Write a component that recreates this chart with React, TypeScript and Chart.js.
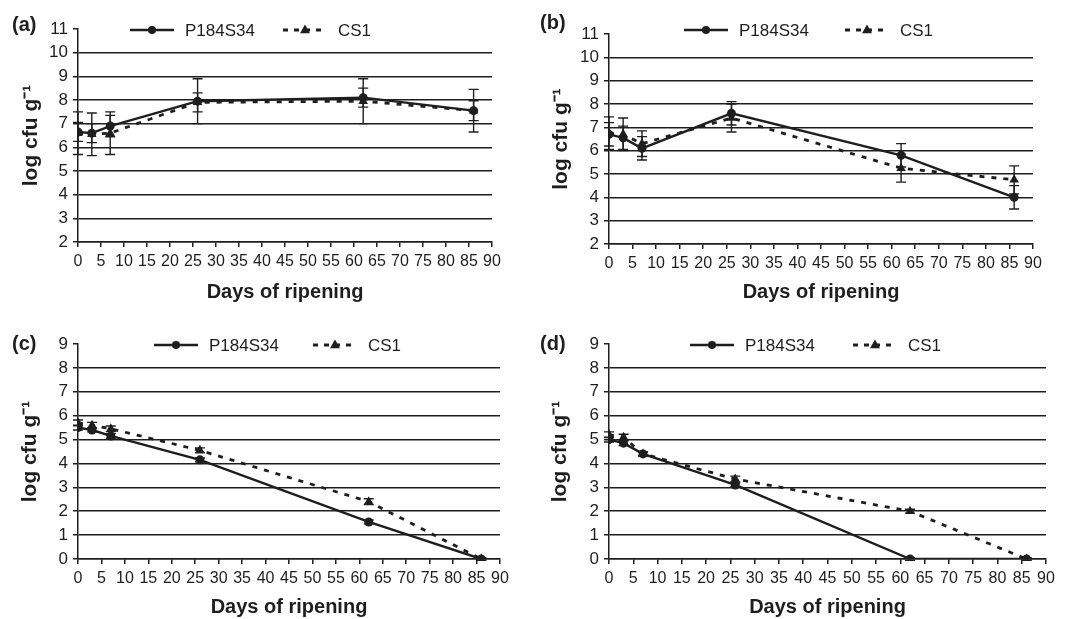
import React, { useEffect, useRef } from 'react';
import { Chart, registerables } from 'chart.js';

Chart.register(...registerables);

// ---------- data ----------
const DAYS = [0, 3, 7, 26, 62, 86];
const X_TICKS = [0, 5, 10, 15, 20, 25, 30, 35, 40, 45, 50, 55, 60, 65, 70, 75, 80, 85, 90];
const SERIES_NAMES = ['P184S34', 'CS1'];
const X_TITLE = 'Days of ripening';
const Y_TITLE = 'log cfu g\u207B\u00B9';
const PANEL_LABELS = ['(a)', '(b)', '(c)', '(d)'];

const A_P184S34 = [6.65, 6.6, 6.9, 7.95, 8.1, 7.55];
const A_P184S34_ERR = [0.4, 0.4, 0.45, 0.95, 0.4, 0.9];
const A_CS1 = [6.6, 6.55, 6.6, 7.9, 7.95, 7.55];
const A_CS1_ERR = [0.9, 0.9, 0.9, 0.4, 0.95, 0.42];

const B_P184S34 = [6.7, 6.55, 6.1, 7.6, 5.8, 4.0];
const B_P184S34_ERR = [0.5, 0.5, 0.5, 0.5, 0.5, 0.5];
const B_CS1 = [6.75, 6.7, 6.3, 7.4, 5.25, 4.75];
const B_CS1_ERR = [0.7, 0.7, 0.55, 0.6, 0.6, 0.6];

const C_P184S34 = [5.5, 5.4, 5.15, 4.15, 1.55, 0];
const C_P184S34_ERR = [0.1, 0.08, 0.1, 0.08, 0.08, 0.05];
const C_CS1 = [5.7, 5.6, 5.45, 4.55, 2.4, 0];
const C_CS1_ERR = [0.12, 0.12, 0.12, 0.1, 0.12, 0.05];

const D_P184S34 = [5.0, 4.85, 4.4, 3.1, 0, 0];
const D_P184S34_ERR = [0.1, 0.1, 0.08, 0.08, 0.05, 0.05];
const D_CS1 = [5.2, 5.1, 4.4, 3.35, 2.0, 0];
const D_CS1_ERR = [0.12, 0.12, 0.08, 0.12, 0.08, 0.05];

const Y_RANGE_TOP = [2, 11];
const Y_RANGE_BOTTOM = [0, 9];

// ---------- style ----------
const INK = '#1e1e1e';
const FONT = '"Liberation Sans", Arial, sans-serif';

type Geom = {
  x: number; y: number; w: number; h: number;
  left: number; right: number; top: number; bottom: number;
  yTitlePad: number; xTitlePad: number;
  labelX: number; labelY: number;
  legX: number; legY: number; legOff: number;
};

const PANELS = [
  {
    label: PANEL_LABELS[0], p: A_P184S34, pErr: A_P184S34_ERR, c: A_CS1, cErr: A_CS1_ERR, range: Y_RANGE_TOP,
    g: { x: 0, y: 0, w: 533, h: 305, left: 78, right: 492, top: 29, bottom: 242, yTitlePad: 19, xTitlePad: 1,
      labelX: 12, labelY: 25, legX: 130, legY: 30, legOff: 153 } as Geom,
  },
  {
    label: PANEL_LABELS[1], p: B_P184S34, pErr: B_P184S34_ERR, c: B_CS1, cErr: B_CS1_ERR, range: Y_RANGE_TOP,
    g: { x: 533, y: 0, w: 533, h: 305, left: 76, right: 500, top: 34, bottom: 244, yTitlePad: 15.5, xTitlePad: 1,
      labelX: 7, labelY: 23, legX: 151, legY: 30, legOff: 161 } as Geom,
  },
  {
    label: PANEL_LABELS[2], p: C_P184S34, pErr: C_P184S34_ERR, c: C_CS1, cErr: C_CS1_ERR, range: Y_RANGE_BOTTOM,
    g: { x: 0, y: 305, w: 533, h: 314, left: 78, right: 500, top: 39, bottom: 254, yTitlePad: 17.5, xTitlePad: 0,
      labelX: 12, labelY: 39, legX: 154, legY: 40, legOff: 159 } as Geom,
  },
  {
    label: PANEL_LABELS[3], p: D_P184S34, pErr: D_P184S34_ERR, c: D_CS1, cErr: D_CS1_ERR, range: Y_RANGE_BOTTOM,
    g: { x: 533, y: 305, w: 533, h: 314, left: 76, right: 513, top: 39, bottom: 254, yTitlePad: 14.5, xTitlePad: 0,
      labelX: 7, labelY: 39, legX: 157, legY: 40, legOff: 163 } as Geom,
  },
];

// ---------- plugins ----------
const errorBarPlugin = {
  id: 'errorBars',
  afterDatasetsDraw(chart: any) {
    const ctx = chart.ctx;
    const yScale = chart.scales.y;
    ctx.save();
    ctx.strokeStyle = INK;
    ctx.lineWidth = 1.4;
    chart.data.datasets.forEach((ds: any, i: number) => {
      const meta = chart.getDatasetMeta(i);
      const errs: number[] = ds.errors || [];
      meta.data.forEach((pt: any, j: number) => {
        const v = ds.data[j].y;
        const e = errs[j] || 0;
        if (!e) return;
        const yTop = yScale.getPixelForValue(v + e);
        const yBot = yScale.getPixelForValue(v - e);
        const x = pt.x;
        ctx.beginPath();
        ctx.moveTo(x, yTop); ctx.lineTo(x, yBot);
        ctx.moveTo(x - 5, yTop); ctx.lineTo(x + 5, yTop);
        ctx.moveTo(x - 5, yBot); ctx.lineTo(x + 5, yBot);
        ctx.stroke();
      });
    });
    ctx.restore();
  },
};

const decorPlugin = {
  id: 'decor',
  afterDraw(chart: any, _args: any, opts: any) {
    const ctx = chart.ctx;
    const g: Geom = opts.g;
    ctx.save();
    // panel label
    ctx.fillStyle = INK;
    ctx.font = `bold 20px ${FONT}`;
    ctx.textAlign = 'left';
    ctx.textBaseline = 'middle';
    ctx.fillText(opts.label, g.labelX, g.labelY);

    // legend item 1: solid line + circle
    const x1 = g.legX, y = g.legY;
    ctx.strokeStyle = INK;
    ctx.lineWidth = 2.4;
    ctx.setLineDash([]);
    ctx.beginPath(); ctx.moveTo(x1, y); ctx.lineTo(x1 + 44, y); ctx.stroke();
    ctx.beginPath(); ctx.arc(x1 + 22, y, 4, 0, Math.PI * 2); ctx.fill();
    ctx.font = `17px ${FONT}`;
    ctx.fillText(SERIES_NAMES[0], x1 + 55, y + 1);

    // legend item 2: dashed + triangle
    const x2 = x1 + g.legOff;
    ctx.lineWidth = 2.8;
    ctx.setLineDash([5, 6]);
    ctx.beginPath(); ctx.moveTo(x2, y); ctx.lineTo(x2 + 44, y); ctx.stroke();
    ctx.setLineDash([]);
    const cx = x2 + 22, r = 5.5;
    ctx.beginPath();
    ctx.moveTo(cx, y - r);
    ctx.lineTo(cx + r * 0.9, y + r * 0.6);
    ctx.lineTo(cx - r * 0.9, y + r * 0.6);
    ctx.closePath();
    ctx.fill();
    ctx.fillText(SERIES_NAMES[1], x2 + 55, y + 1);
    ctx.restore();
  },
};

function Panel({ cfg }: { cfg: any }) {
  const ref = useRef<HTMLCanvasElement>(null);
  const g: Geom = cfg.g;
  useEffect(() => {
    if (!ref.current) return;
    const [yMin, yMax] = cfg.range;
    const chart = new Chart(ref.current, {
      type: 'line',
      data: {
        datasets: [
          {
            label: SERIES_NAMES[0],
            data: DAYS.map((d, i) => ({ x: d, y: cfg.p[i] })),
            errors: cfg.pErr,
            borderColor: INK, backgroundColor: INK,
            borderWidth: 2.4,
            pointStyle: 'circle', pointRadius: 4.5, pointBorderWidth: 0,
            tension: 0,
          } as any,
          {
            label: SERIES_NAMES[1],
            data: DAYS.map((d, i) => ({ x: d, y: cfg.c[i] })),
            errors: cfg.cErr,
            borderColor: INK, backgroundColor: INK,
            borderWidth: 2.8,
            borderDash: [5, 7],
            pointStyle: 'triangle', pointRadius: 5.5, pointBorderWidth: 0,
            tension: 0,
          } as any,
        ],
      },
      options: {
        animation: false,
        responsive: false,
        maintainAspectRatio: false,
        devicePixelRatio: 1,
        events: [],
        layout: { padding: { top: g.top, right: g.w - g.right, left: 0, bottom: 0 } },
        plugins: {
          legend: { display: false },
          tooltip: { enabled: false },
          decor: { g, label: cfg.label },
        } as any,
        scales: {
          x: {
            type: 'linear',
            min: 0, max: 90,
            afterBuildTicks: (s: any) => { s.ticks = X_TICKS.map((v) => ({ value: v })); },
            afterFit: (s: any) => { s.height = g.h - g.bottom; },
            border: { display: true, color: INK, width: 1.5 },
            grid: { drawOnChartArea: false, drawTicks: true, tickLength: 5, color: INK, lineWidth: 1.5 },
            ticks: { autoSkip: false, maxRotation: 0, padding: 5, color: INK, font: { family: FONT, size: 16 } },
            title: {
              display: true, text: X_TITLE, color: INK,
              font: { family: FONT, size: 20, weight: 'bold' },
              padding: { top: 0, bottom: g.xTitlePad },
            },
          },
          y: {
            type: 'linear',
            min: yMin, max: yMax,
            afterFit: (s: any) => { s.width = g.left; },
            border: { display: true, color: INK, width: 1.5 },
            grid: {
              color: (c: any) => (c.tick && c.tick.value === yMax ? 'rgba(0,0,0,0)' : INK),
              tickColor: INK,
              lineWidth: 1.5,
              tickLength: 5,
            },
            ticks: { stepSize: 1, autoSkip: false, padding: 5, color: INK, font: { family: FONT, size: 17 } },
            title: {
              display: true, text: Y_TITLE, color: INK,
              font: { family: FONT, size: 21, weight: 'bold' },
              padding: { top: g.yTitlePad, bottom: 0 },
            },
          },
        },
      } as any,
      plugins: [errorBarPlugin, decorPlugin],
    });
    return () => chart.destroy();
  }, []);
  return (
    <canvas
      ref={ref}
      width={g.w}
      height={g.h}
      style={{ position: 'absolute', left: g.x, top: g.y, width: g.w, height: g.h }}
    />
  );
}

export default function App() {
  return (
    <div style={{ position: 'fixed', left: 0, top: 0, width: 1066, height: 619, background: '#fff' }}>
      {PANELS.map((p, i) => (
        <Panel key={i} cfg={p} />
      ))}
    </div>
  );
}
